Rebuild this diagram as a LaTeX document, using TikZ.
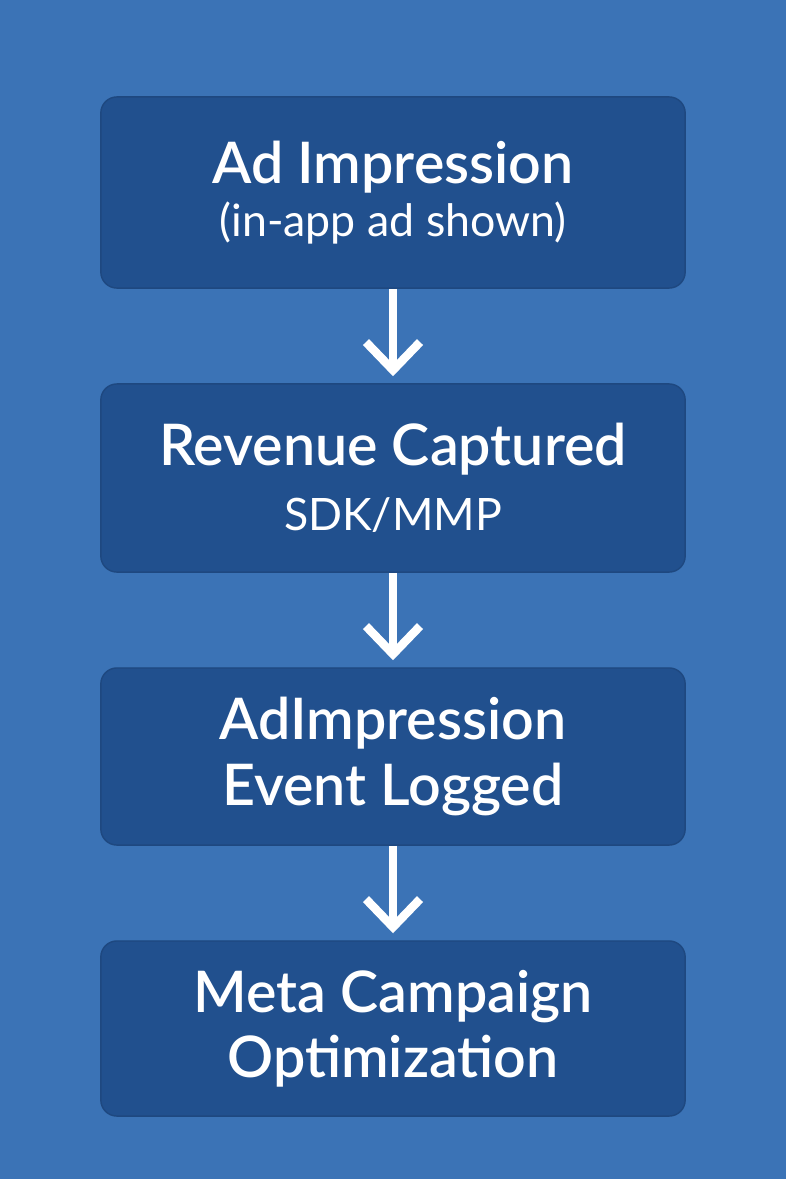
\documentclass[tikz,border=0pt]{standalone}
\usepackage{fontspec}
\setmainfont{Lato}[BoldFont={* Semibold}]
\usetikzlibrary{arrows.meta}
\definecolor{bgblue}{RGB}{59,115,182}
\definecolor{boxblue}{RGB}{33,80,142}
\newcommand\boxtitle{\fontsize{16.3}{18.6}\selectfont\bfseries}

\begin{document}
\begin{tikzpicture}[x=0.01cm,y=-0.01cm,
        box/.style={shape=rectangle,rounded corners=0.16cm,fill=boxblue,draw=boxblue!90!black,line width=0.4pt,text=white,minimum width=5.84cm,align=center,font=\fontsize{12.7}{18.6}\selectfont},
        flow/.style={-{Straight Barb[length=0.28cm,width=0.54cm,line cap=butt,line join=miter]},draw=white,line width=0.085cm,shorten >=0.07cm}]
        \fill[bgblue] (0,0) rectangle (786,1179);
        \useasboundingbox (0,0) rectangle (786,1179);
        \node[box,minimum height=1.91cm] (imp) at (393,192.5) {{\boxtitle Ad Impression}\\[-3.5pt](in-app ad shown)};
        \node[box,minimum height=1.88cm] (rev) at (393,478) {{\boxtitle Revenue Captured}\\SDK/MMP};
        \node[box,minimum height=1.77cm] (evt) at (393,756.5) {{\boxtitle AdImpression}\\{\boxtitle Event Logged}};
        \node[box,minimum height=1.75cm] (opt) at (393,1028.5) {{\boxtitle Meta Campaign}\\{\boxtitle Optimization}};
        \path [flow] (imp) edge (rev);
        \path [flow] (rev) edge (evt);
        \path [flow] (evt) edge (opt);
    \end{tikzpicture}
\end{document}
